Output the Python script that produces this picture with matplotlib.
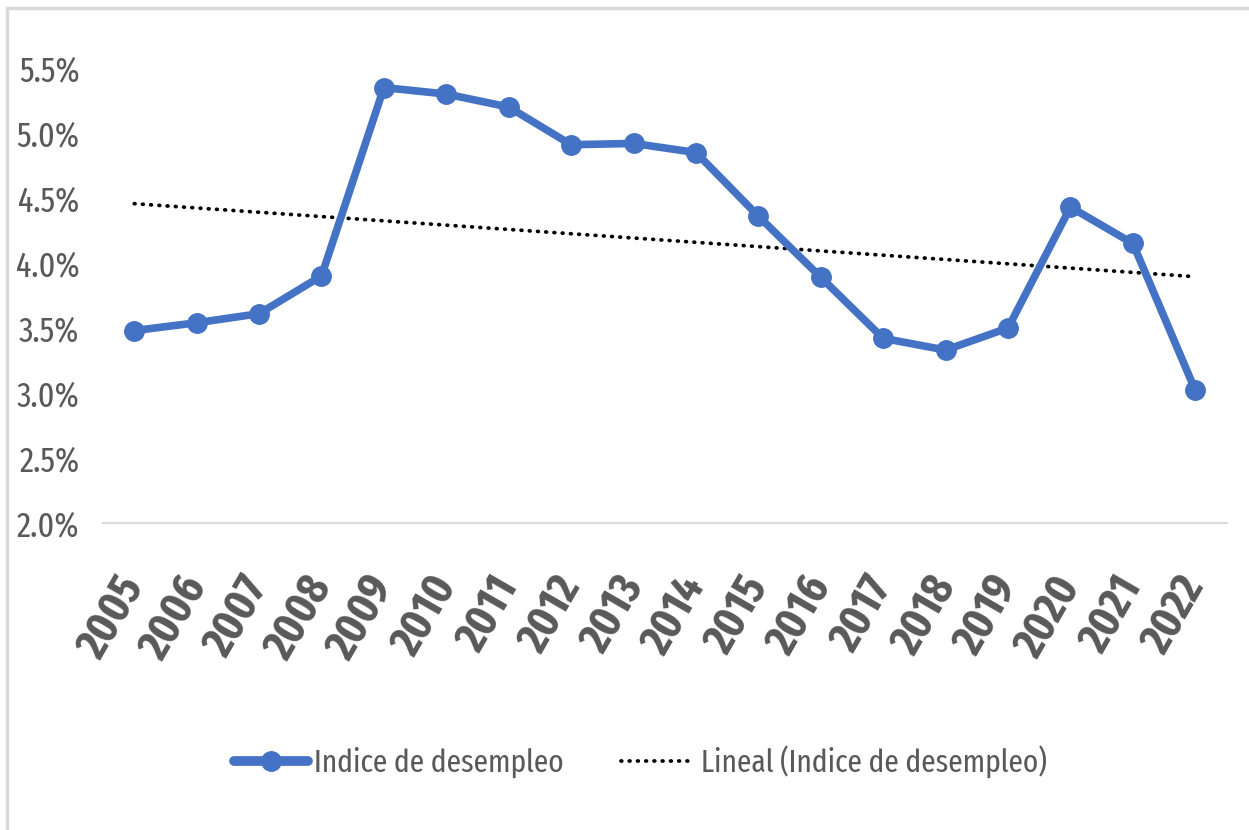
import numpy as np
import matplotlib
matplotlib.use("Agg")
import matplotlib.pyplot as plt
from matplotlib.patches import Rectangle
from matplotlib.ticker import FuncFormatter
from matplotlib.lines import Line2D

years = ["2005", "2006", "2007", "2008", "2009", "2010", "2011", "2012", "2013",
         "2014", "2015", "2016", "2017", "2018", "2019", "2020", "2021", "2022"]
desempleo = [3.48, 3.54, 3.61, 3.90, 5.35, 5.30, 5.20, 4.91, 4.92,
             4.85, 4.36, 3.89, 3.42, 3.33, 3.50, 4.43, 4.15, 3.02]
y_ticks = [2.0, 2.5, 3.0, 3.5, 4.0, 4.5, 5.0, 5.5]
serie_label = "Indice de desempleo"
trend_label = "Lineal (Indice de desempleo)"

plt.rcParams['font.family'] = ['Fira Sans Extra Condensed', 'Roboto', 'DejaVu Sans']

fig = plt.figure(figsize=(12.49, 8.30), dpi=100)
ax = fig.add_axes([0.0825, 0.370, 0.8995, 0.548])

x = np.arange(len(years))
blue = "#4472C4"
dot_style = (0, (0.2, 2.0))
ax.plot(x, desempleo, color=blue, lw=5.5, marker='o', markersize=14,
        solid_joinstyle='round', solid_capstyle='round', clip_on=False, zorder=3)

coef = np.polyfit(x, desempleo, 1)
trend = np.polyval(coef, x)
ax.plot(x, trend, color='black', lw=2.7, linestyle=dot_style,
        dash_capstyle='round', zorder=2)

ax.set_xlim(-0.5, len(years) - 0.5)
ax.set_ylim(y_ticks[0], y_ticks[-1])
ax.set_yticks(y_ticks)
ax.yaxis.set_major_formatter(FuncFormatter(lambda v, p: f"{v:.1f}%"))
ax.set_xticks(x)
ax.set_xticklabels(years, rotation=60, ha='right', va='center', rotation_mode='anchor',
                   fontweight='bold', fontsize=33, color='#595959')
ax.tick_params(axis='y', length=0, labelsize=25, labelcolor='#595959', pad=17)
ax.tick_params(axis='x', length=0, pad=41)
for s in ['top', 'right', 'left']:
    ax.spines[s].set_visible(False)
ax.spines['bottom'].set_color('#D9D9D9')
ax.spines['bottom'].set_linewidth(1.5)

handles = [
    Line2D([], [], color=blue, lw=7, marker='o', markersize=14, solid_capstyle='round'),
    Line2D([], [], color='black', lw=2.7, linestyle=dot_style, dash_capstyle='round'),
]
fig.legend(handles, [serie_label, trend_label], loc='center', bbox_to_anchor=(0.513, 0.082),
           ncol=2, frameon=False, fontsize=23, handlelength=2.3, handletextpad=0.2,
           columnspacing=1.8, labelcolor='#595959')

fig.patches.append(Rectangle((0.0055, -0.01), 1.2, 1.0, transform=fig.transFigure,
                             fill=False, edgecolor='#D9D9D9', lw=2.5))

fig.savefig("out.png", dpi=100)
